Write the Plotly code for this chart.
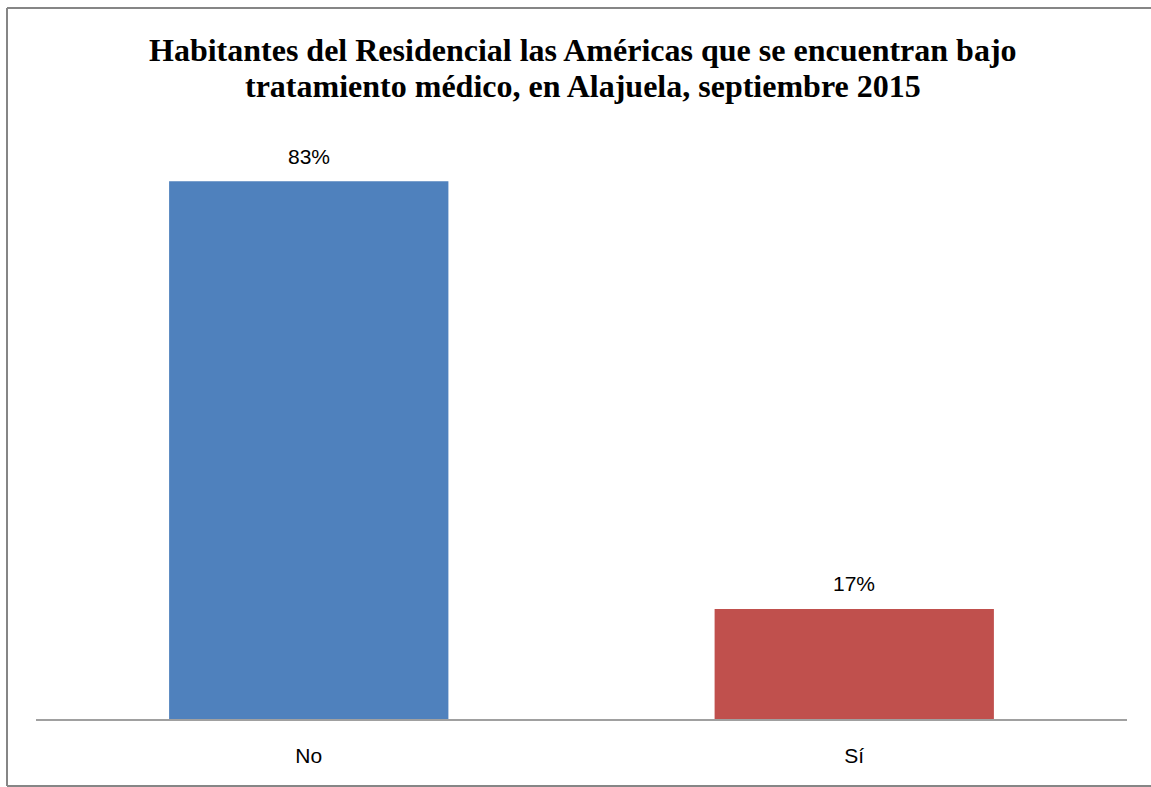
import plotly.graph_objects as go

categories = ["No", "Sí"]
values = [0.83, 0.17]
labels = ["83%", "17%"]
colors = ["#4F81BD", "#C0504D"]
title_lines = ["Habitantes del Residencial las Américas que se encuentran bajo",
               "tratamiento médico, en Alajuela, septiembre 2015"]

W, H = 1151, 787
L, R, T, B = 36, 24, 136, 68
pw, ph = W - L - R, H - T - B

def px_x(p):
    return (p - L) / pw

def px_y(p):
    return (H - B - p) / ph

fig = go.Figure(go.Bar(
    x=categories, y=values, marker=dict(color=colors, line=dict(width=0)),
    hoverinfo="skip",
))

for c, v, t in zip(categories, values, labels):
    fig.add_annotation(x=c, y=v, text=t, showarrow=False, yanchor="middle", yshift=25,
                       font=dict(family="Liberation Sans, Arial", size=21, color="#000000"))

for line, ypx in zip(title_lines, [50, 86]):
    fig.add_annotation(xref="paper", yref="paper", x=px_x(583), y=px_y(ypx),
                       text="<b>" + line + "</b>", showarrow=False,
                       xanchor="center", yanchor="middle",
                       font=dict(family="Liberation Serif, Times New Roman", size=32, color="#000000"))

border = dict(color="#868686", width=2)
x0, x1, ytop, ybot = px_x(7), px_x(1200), px_y(8), px_y(786)
fig.update_layout(
    width=W, height=H, margin=dict(l=L, r=R, t=T, b=B),
    paper_bgcolor="white", plot_bgcolor="white",
    bargap=0.488, showlegend=False,
    xaxis=dict(showline=True, linecolor="#A0A0A0", linewidth=2, ticks="",
               ticklabelstandoff=17, showgrid=False,
               tickfont=dict(family="Liberation Sans, Arial", size=21, color="#000000")),
    yaxis=dict(range=[0, 0.9], visible=False, showgrid=False, zeroline=False),
    shapes=[
        dict(type="line", xref="paper", yref="paper", x0=x0, x1=x1, y0=ytop, y1=ytop, line=border),
        dict(type="line", xref="paper", yref="paper", x0=x0, x1=x1, y0=ybot, y1=ybot, line=border),
        dict(type="line", xref="paper", yref="paper", x0=x0, x1=x0, y0=ybot, y1=ytop, line=border),
    ],
)

fig.write_html("out.html", config={"displayModeBar": False},
               post_script="document.body.style.margin='0';document.body.style.overflow='hidden';")
